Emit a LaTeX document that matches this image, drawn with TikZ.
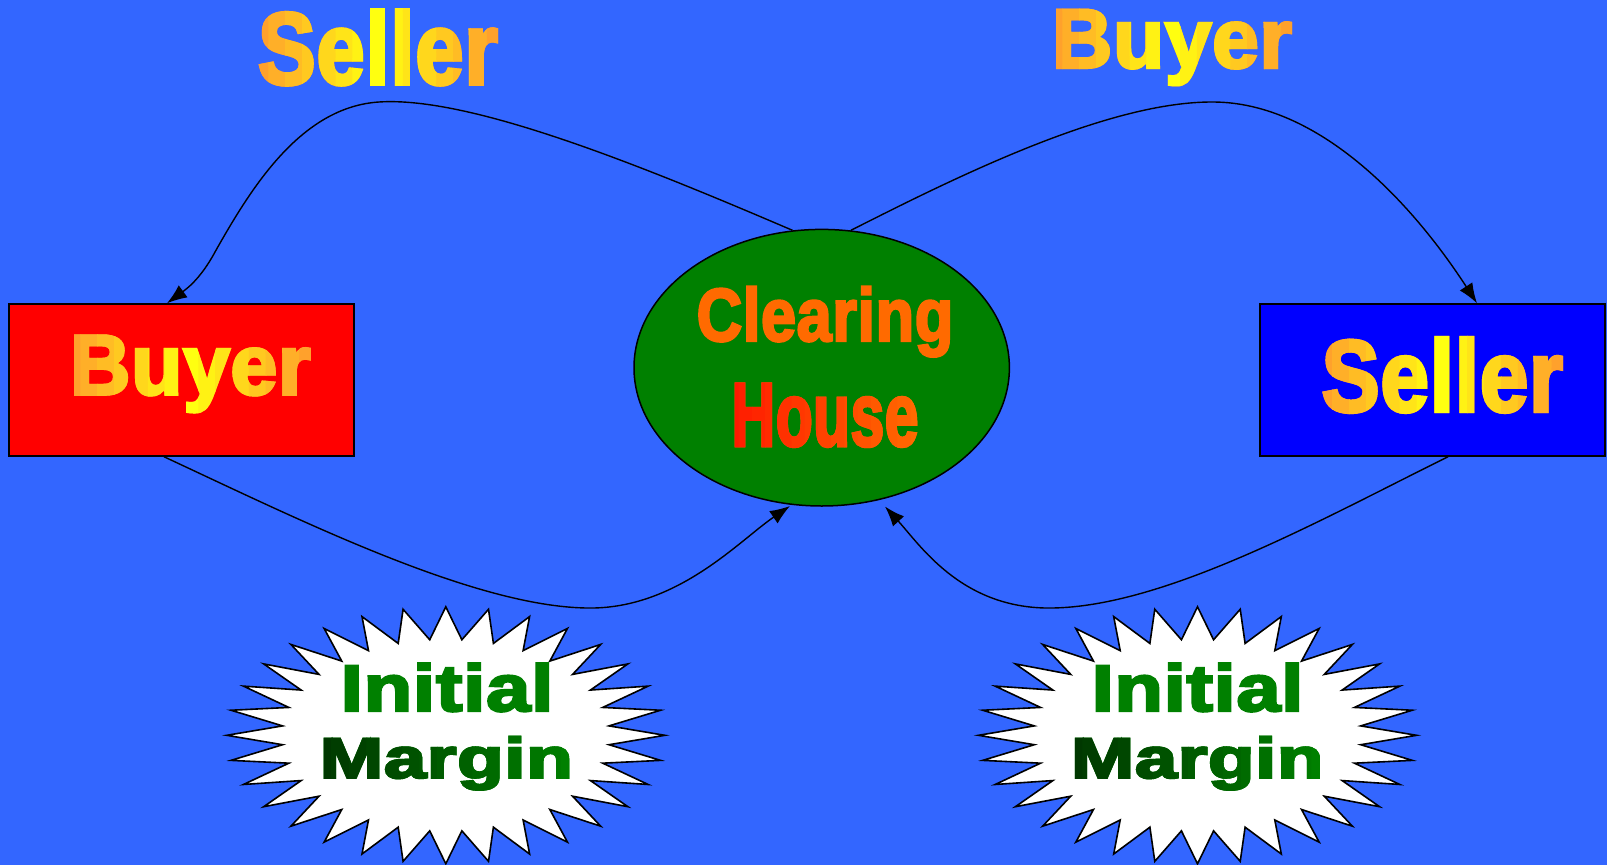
\documentclass[tikz,border=0pt]{standalone}
\usepackage{graphicx}
\usepackage{fontspec}
\newfontfamily\imp{Liberation Sans Bold}[FakeBold=3.5, LetterSpace=1]
\usetikzlibrary{shapes.geometric,arrows.meta,calc}
\definecolor{bg}{HTML}{3366FF}
\definecolor{boxred}{HTML}{FF0000}
\definecolor{boxblue}{HTML}{0000FF}
\definecolor{chgreen}{HTML}{008000}
\definecolor{txtorange}{HTML}{FF9430}
\definecolor{txtyellow}{HTML}{FFFF10}
\definecolor{chorange}{HTML}{FF6A00}
\definecolor{chred}{HTML}{FF1A00}
\definecolor{imgreen}{HTML}{008000}
\definecolor{mgreen}{HTML}{008000}
\definecolor{mdark}{HTML}{003800}
\newcommand\fitword[3]{\resizebox*{#1pt}{#2pt}{\imp\fontsize{100pt}{100pt}\selectfont #3}}
% name, x, y, W, H, text, base colour, second colour, mix formula (percent of second colour in strip \k of 15)
\newcommand\gradword[9]{%
  \node[txt, text=#7] (#1) at (#2,#3) {\fitword{#4}{#5}{#6}};
  \foreach \k in {1,...,15}{%
    \pgfmathsetmacro\mix{#9}%
    \begin{scope}
      \clip ({#2-#4/2-6+(\k-1)*(#4+12)/15-0.4},{#3-#5}) rectangle ({#2-#4/2-6+\k*(#4+12)/15+0.4},{#3+#5});
      \node[txt, text=#8!\mix!#7] (#1-s\k) at (#2,#3) {\fitword{#4}{#5}{#6}};
    \end{scope}}}
\newcommand\burstshape[2]{%
  \draw[burst] ({#1+219},{#2})
    \foreach \i in {1,...,63}{ -- ({#1+(isodd(\i)?164:219)*cos(\i*5.625)},{#2+(isodd(\i)?96:128.5)*sin(\i*5.625)}) } -- cycle;}
\begin{document}
\begin{tikzpicture}[x=1pt,y=-1pt,
  txt/.style={inner sep=0pt, outer sep=0pt, anchor=center},
  box/.style={draw=black, line width=1.5pt, minimum width=345pt, minimum height=152pt, inner sep=0pt},
  conn/.style={draw=black, line width=1.4pt, -{Latex[length=20pt,width=15pt]}},
  burst/.style={draw=black, line width=1.6pt, fill=white, line join=miter}]
\fill[bg] (0,0) rectangle (1607,865);
\useasboundingbox (0,0) rectangle (1607,865);

% nodes
\node[ellipse, draw=black, line width=1.5pt, fill=chgreen, minimum width=375.4pt, minimum height=276.6pt, inner sep=0pt] (ch) at (821.7,367.7) {};
\node[box, fill=boxred] (buyer) at (181.5,380) {};
\node[box, fill=boxblue] (seller) at (1432.5,380) {};

% connectors
\draw[conn] (ch.102.7) .. controls (640,165) and (470,96) .. (379,102)
  .. controls (300,107) and (250,190) .. (215,252)
  .. controls (200,280) and (185,290) .. ([xshift=-14.5pt]buyer.north);
\draw[conn] (ch.78.1) .. controls (960,175) and (1110,101) .. (1214,102)
  .. controls (1318,103) and (1410,200) .. ([xshift=44.5pt]seller.north);
\draw[conn] ([xshift=-17.5pt]buyer.south) .. controls (300,520) and (480,610) .. (594,608)
  .. controls (680,606) and (740,540) .. ([shift={(-31.7,138.3)}]ch.center);
\draw[conn] ([xshift=15.5pt]seller.south) .. controls (1320,520) and (1160,610) .. (1045,608)
  .. controls (960,606) and (920,545) .. ([shift={(63.3,138.8)}]ch.center);

% starbursts
\burstshape{445.8}{735.3}
\burstshape{1197.5}{735.3}

% texts
\gradword{tseller}{378}{47.5}{240}{75}{Seller}{txtorange}{txtyellow}{100*(1-abs(\k-8)/8)}
\gradword{tbuyer}{1172}{47.5}{240}{75}{Buyer}{txtorange}{txtyellow}{100*(1-abs(\k-8)/8)}
\gradword{lbuyer}{190.3}{373.9}{240.7}{76.3}{Buyer}{txtorange}{txtyellow}{100*(1-abs(\k-8)/8)}
\gradword{lseller}{1442.3}{375}{241.3}{74.6}{Seller}{txtorange}{txtyellow}{100*(1-abs(\k-8)/8)}
\node[txt, text=chorange] (clearing) at (825,321.7) {\fitword{256.6}{70}{Clearing}};
\gradword{house}{825}{415.3}{186.6}{62.7}{House}{chorange}{chred}{100*(1-(\k-1)/14)}
\node[txt, text=imgreen] (initL) at (447,687.5) {\fitword{212.6}{48.4}{Initial}};
\gradword{margL}{446.3}{763.3}{252.7}{53.3}{Margin}{mgreen}{mdark}{100*(1-(\k-1)/14)}
\node[txt, text=imgreen] (initR) at (1197.5,687.5) {\fitword{211.6}{48.4}{Initial}};
\gradword{margR}{1197.2}{763.3}{252.3}{53.3}{Margin}{mgreen}{mdark}{100*(1-(\k-1)/14)}
\end{tikzpicture}
\end{document}
